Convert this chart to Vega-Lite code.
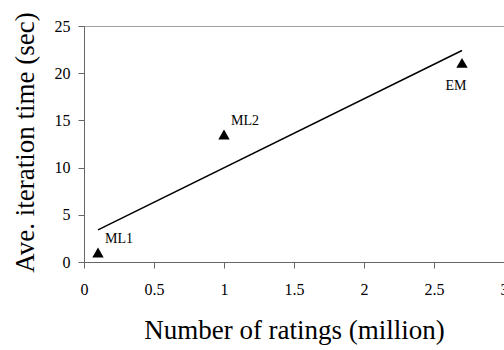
{
  "$schema": "https://vega.github.io/schema/vega-lite/v6.json",
  "width": 420,
  "height": 236,
  "autosize": {"type": "none"},
  "padding": {"left": 84, "top": 26, "right": 0, "bottom": 88},
  "background": "white",
  "config": {
    "font": "Liberation Serif",
    "view": {"stroke": "#a0a0a0", "strokeWidth": 1}
  },
  "datasets": {
    "pts": [
      {"ratings": 0.1, "time": 1.0, "label": "ML1"},
      {"ratings": 1.0, "time": 13.5, "label": "ML2"},
      {"ratings": 2.7, "time": 21.1, "label": "EM"}
    ],
    "fit": [
      {"ratings": 0.1, "time": 3.4},
      {"ratings": 2.7, "time": 22.4}
    ]
  },
  "layer": [
    {
      "data": {"name": "fit"},
      "mark": {"type": "line", "color": "black", "strokeWidth": 1.5},
      "encoding": {
        "x": {
          "field": "ratings", "type": "quantitative",
          "scale": {"domain": [0, 3], "nice": false},
          "axis": {
            "values": [0, 0.5, 1, 1.5, 2, 2.5, 3],
            "format": "~g",
            "grid": false,
            "title": "Number of ratings (million)",
            "titleFont": "Liberation Serif", "titleFontSize": 27, "titleFontWeight": "normal",
            "titleColor": "black", "titlePadding": 20,
            "labelFont": "Liberation Serif", "labelFontSize": 16, "labelColor": "black",
            "labelPadding": 13, "tickSize": 6, "tickColor": "#666", "domainColor": "#666",
            "labelFlush": false, "labelOverlap": false
          }
        },
        "y": {
          "field": "time", "type": "quantitative",
          "scale": {"domain": [0, 25], "nice": false},
          "axis": {
            "values": [0, 5, 10, 15, 20, 25],
            "grid": false,
            "title": "Ave. iteration time (sec)",
            "titleFont": "Liberation Serif", "titleFontSize": 27, "titleFontWeight": "normal",
            "titleColor": "black", "titleX": -59, "titleY": 116, "titleAngle": -90,
            "titleAlign": "center", "titleBaseline": "middle",
            "labelFont": "Liberation Serif", "labelFontSize": 16, "labelColor": "black",
            "labelPadding": 8, "tickSize": 6, "tickColor": "#666", "domainColor": "#666",
            "labelFlush": false, "labelOverlap": false
          }
        }
      }
    },
    {
      "data": {"name": "pts"},
      "mark": {"type": "point", "shape": "triangle-up", "filled": true, "color": "black", "opacity": 1, "size": 130},
      "encoding": {
        "x": {"field": "ratings", "type": "quantitative"},
        "y": {"field": "time", "type": "quantitative"}
      }
    },
    {
      "data": {"name": "pts"},
      "transform": [{"filter": "datum.label !== 'EM'"}],
      "mark": {"type": "text", "align": "left", "baseline": "middle", "dx": 7, "dy": -14, "fontSize": 14, "font": "Liberation Serif", "color": "black"},
      "encoding": {
        "x": {"field": "ratings", "type": "quantitative"},
        "y": {"field": "time", "type": "quantitative"},
        "text": {"field": "label"}
      }
    },
    {
      "data": {"name": "pts"},
      "transform": [{"filter": "datum.label === 'EM'"}],
      "mark": {"type": "text", "align": "center", "baseline": "middle", "dx": -6, "dy": 23, "fontSize": 14, "font": "Liberation Serif", "color": "black"},
      "encoding": {
        "x": {"field": "ratings", "type": "quantitative"},
        "y": {"field": "time", "type": "quantitative"},
        "text": {"field": "label"}
      }
    }
  ]
}
